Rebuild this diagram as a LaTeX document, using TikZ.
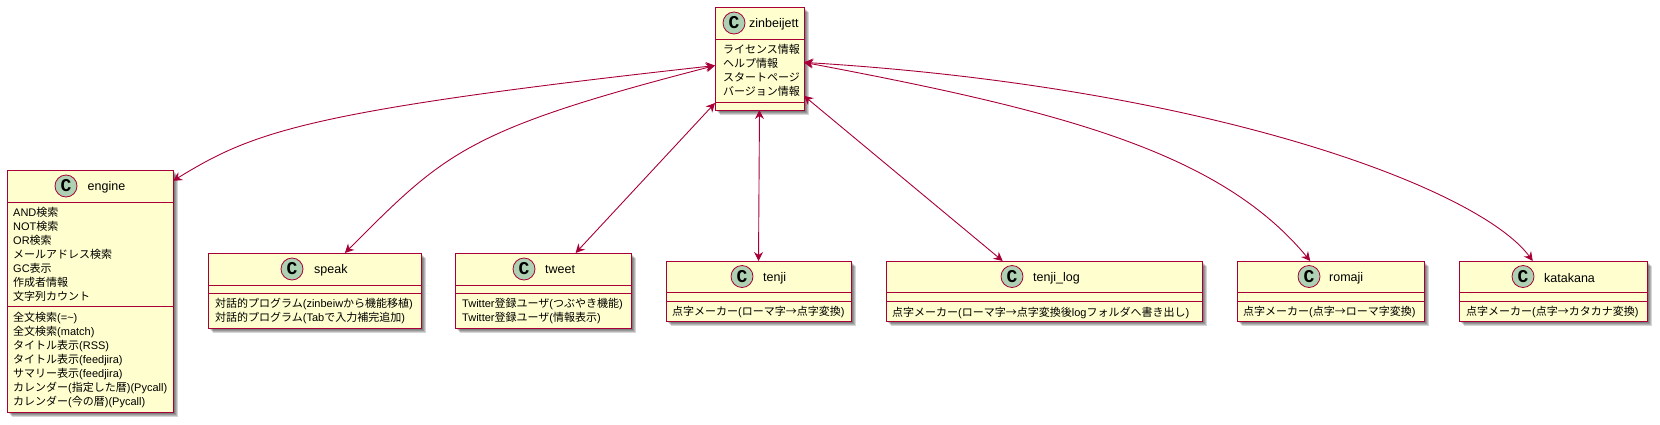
\documentclass[tikz,border=0pt]{standalone}
\usepackage{fontspec}
\usetikzlibrary{arrows.meta}
\setmainfont{Liberation Sans}
\newfontfamily\cjk{Noto Sans CJK JP}
\newfontfamily\spotfont{Liberation Mono}
\newcommand{\jp}[1]{{\cjk #1}}
\definecolor{umlred}{HTML}{A80036}
\definecolor{umlfill}{HTML}{FEFECE}
\definecolor{umlspot}{HTML}{ADD1B2}
\tikzset{
  umlclass/.style={draw=umlred, line width=1pt, fill=umlfill, inner sep=0pt, outer sep=0pt},
  umlshadow/.style={fill=black, fill opacity=0.16},
  umlrule/.style={draw=umlred, line width=1pt},
  umlspotc/.style={draw=umlred, line width=0.8pt, fill=umlspot, circle, minimum size=22pt, inner sep=0pt,
    font=\spotfont\bfseries\fontsize{18}{18}\selectfont},
  umltitle/.style={anchor=west, inner sep=0pt, font=\fontsize{12.5}{14}\selectfont},
  umlmember/.style={anchor=north west, inner sep=0pt, align=left,
    font=\fontsize{11}{14}\selectfont\lineskiplimit-20pt\relax},
  umllink/.style={draw=umlred, line width=0.9pt, {Stealth[length=9pt,width=9pt,inset=3pt]}-{Stealth[length=9pt,width=9pt,inset=3pt]}}
}
\begin{document}
\begin{tikzpicture}[x=1pt, y=-1pt]
    \useasboundingbox (0, 0) rectangle (1660, 424);

    % name / left / top / right / header line / separator / bottom / spot x
    \foreach \name/\xa/\ya/\xb/\yh/\ys/\yb/\xs in {
      zinbeijett/715/7/804/39/102/110/734,
      engine/7/170/173/202/306/412/66,
      speak/208/253/421/285/293/328/292,
      tweet/455/253/631/285/293/328/524,
      tenji/666/261/851/292/301/321/742,
      tenjilog/886/261/1202/292/301/321/1012,
      romaji/1237/261/1424/292/301/321/1309,
      katakana/1459/261/1647/292/301/321/1523} {
      \foreach \d in {2, 3, 4, 5} {
        \fill[umlshadow] (\xa+\d, \ya+\d) rectangle (\xb+\d, \yb+\d);
      }
      \node[umlclass, minimum width={(\xb-\xa)*1pt}, minimum height={(\yb-\ya)*1pt}, anchor=north west] (\name) at (\xa, \ya) {};
      \draw[umlrule] (\xa, \yh) -- (\xb, \yh);
      \draw[umlrule] (\xa, \ys) -- (\xb, \ys);
      \node[umlspotc] (\name-spot) at (\xs, {(\ya+\yh)/2}) {C};
    }

    \node[umltitle] (zinbeijett-title) at (749, 24) {zinbeijett};
    \node[umltitle] (engine-title) at (87.5, 187) {engine};
    \node[umltitle] (speak-title) at (314, 270) {speak};
    \node[umltitle] (tweet-title) at (545, 270) {tweet};
    \node[umltitle] (tenji-title) at (763, 278) {tenji};
    \node[umltitle] (tenjilog-title) at (1033, 278) {tenji\_log};
    \node[umltitle] (romaji-title) at (1329, 278) {romaji};
    \node[umltitle] (katakana-title) at (1544, 278) {katakana};

    \node[umlmember] (zinbeijett-members) at (723, 44.5) {\jp{ライセンス情報}\\\jp{ヘルプ情報}\\\jp{スタートページ}\\\jp{バージョン情報}};
    \node[umlmember] (engine-fields) at (13, 207.5) {AND\jp{検索}\\NOT\jp{検索}\\OR\jp{検索}\\\jp{メールアドレス検索}\\GC\jp{表示}\\\jp{作成者情報}\\\jp{文字列カウント}};
    \node[umlmember] (engine-methods) at (13, 312.5) {\jp{全文検索}(=\textasciitilde)\\\jp{全文検索}(match)\\\jp{タイトル表示}(RSS)\\\jp{タイトル表示}(feedjira)\\\jp{サマリー表示}(feedjira)\\\jp{カレンダー}(\jp{指定した暦})(Pycall)\\\jp{カレンダー}(\jp{今の暦})(Pycall)};
    \node[umlmember] (speak-methods) at (215, 298.5) {\jp{対話的プログラム}(zinbeiw\jp{から機能移植})\\\jp{対話的プログラム}(Tab\jp{で入力補完追加})};
    \node[umlmember] (tweet-methods) at (462, 298.5) {Twitter\jp{登録ユーザ}(\jp{つぶやき機能})\\Twitter\jp{登録ユーザ}(\jp{情報表示})};
    \node[umlmember] (tenji-methods) at (672, 306.5) {\jp{点字メーカー}(\jp{ローマ字→点字変換})};
    \node[umlmember] (tenjilog-methods) at (892, 306.5) {\jp{点字メーカー}(\jp{ローマ字→点字変換後}log\jp{フォルダへ書き出し})};
    \node[umlmember] (romaji-methods) at (1243, 306.5) {\jp{点字メーカー}(\jp{点字→ローマ字変換})};
    \node[umlmember] (katakana-methods) at (1466, 306.5) {\jp{点字メーカー}(\jp{点字→カタカナ変換})};

    \draw[umllink] (zinbeijett.189.6) .. controls (304, 111) and (253, 132) .. (engine.53);
    \draw[umllink] (zinbeijett.189.6) .. controls (465, 130) and (445, 153) .. (speak.51);
    \draw[umllink] (zinbeijett.225) -- (tweet.49);
    \draw[umllink] (zinbeijett.south) -- (tenji.north);
    \draw[umllink] (zinbeijett.320) -- (tenjilog.144.5);
    \draw[umllink] (zinbeijett.355.5) .. controls (1062, 111) and (1220, 152) .. (romaji.124);
    \draw[umllink] (zinbeijett.355.5) .. controls (1209, 87) and (1479, 188) .. (katakana.124);
  \end{tikzpicture}
\end{document}
